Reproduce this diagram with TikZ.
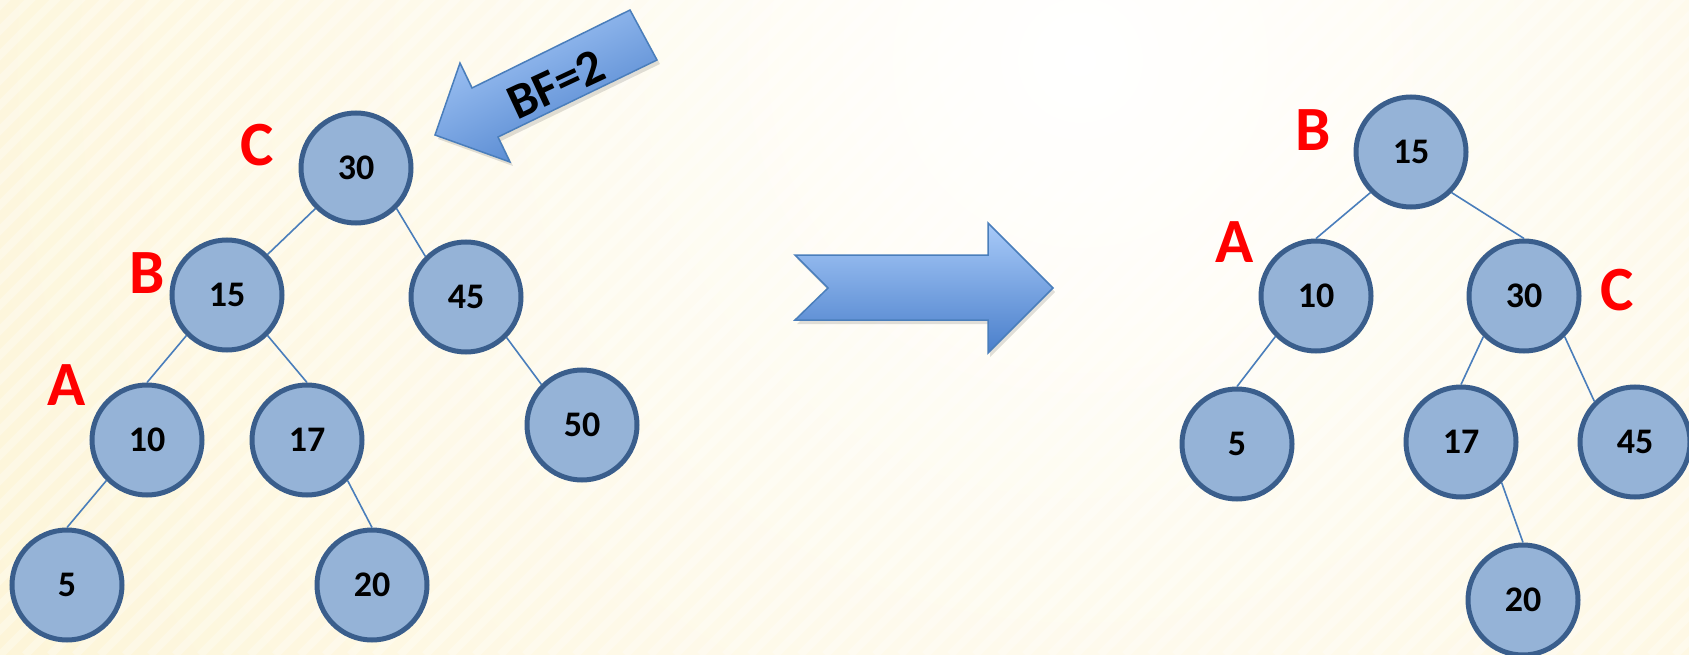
\documentclass[tikz,border=0pt]{standalone}
\usepackage{fontspec}
\setmainfont{Carlito}
\usetikzlibrary{positioning}

\definecolor{bgyellow}{HTML}{FCEFC0}
\definecolor{nodefill}{HTML}{95B3D7}
\definecolor{nodeline}{HTML}{3A5E8C}
\definecolor{edgeblue}{HTML}{4A7EBB}
\definecolor{arrowtop}{HTML}{A8CAF8}
\definecolor{arrowbot}{HTML}{4A7FCB}

\tikzset{
  knode/.style={circle,draw=nodeline,fill=nodefill,line width=5pt,minimum size=110pt,inner sep=0pt,font=\fontsize{36}{40}\selectfont\bfseries},
  klabel/.style={text=red,inner sep=0pt,font=\fontsize{63}{70}\selectfont\bfseries},
  kedge/.style={edgeblue,line width=1.6pt},
  bigarrow/.style={draw=edgeblue,line width=1.5pt,line join=miter}
}

\begin{document}
\begin{tikzpicture}[x=1pt,y=-1pt]

    \useasboundingbox (0,0) rectangle (1689,655);
    % hatter
    \fill[bgyellow] (0,0) rectangle (1689,655);
    \begin{scope}
      \clip (0,0) rectangle (1689,655);
      \shade[inner color=white,outer color=bgyellow] (1080,60) circle (2000);
      \foreach \i in {-700,-675,...,1700}
        \draw[white,opacity=0.3,line width=8pt] (\i,655) -- ++(720,-720);
    \end{scope}

    % bal fa
    \node[knode] (l30) at (356,168) {30};
    \node[knode] (l15) at (227,295) {15};
    \node[knode] (l45) at (466,297) {45};
    \node[knode] (l10) at (147,440) {10};
    \node[knode] (l17) at (307,440) {17};
    \node[knode] (l50) at (582,425) {50};
    \node[knode] (l5)  at (67,585)  {5};
    \node[knode] (l20) at (372,585) {20};

    \draw[kedge] (l30.south west) -- (l15.north east);
    \draw[kedge] (l30.south east) -- (l45.north west);
    \draw[kedge] (l15.south west) -- (l10.north);
    \draw[kedge] (l15.south east) -- (l17.north);
    \draw[kedge] (l45.south east) -- (l50.north west);
    \draw[kedge] (l10.south west) -- (l5.north);
    \draw[kedge] (l17.south east) -- (l20.north);

    \node[klabel] (lC) at (257,145) {C};
    \node[klabel] (lB) at (147,273) {B};
    \node[klabel] (lA) at (67,385)  {A};

    % BF nyil
    \fill[black,opacity=0.12] (438,139) -- (463,67) -- (475,92) -- (633,14) -- (660,64) -- (501,141) -- (513,166) -- cycle;
    \shade[bigarrow,top color=arrowtop,bottom color=arrowbot,shading angle=26]
      (435,135) -- (460,63) -- (472,88) -- (630,10) -- (657,60) -- (498,137) -- (510,162) -- cycle;
    \node[rotate=25,inner sep=0pt,font=\fontsize{50}{52}\selectfont\bfseries] (bf) at (556,84) {BF=2};

    % atmenet
    \fill[black,opacity=0.12] (797,259) -- (990,259) -- (990,227) -- (1055,292) -- (990,357) -- (990,324) -- (797,324) -- (830,292) -- cycle;
    \shade[bigarrow,top color=arrowtop,bottom color=arrowbot]
      (795,255) -- (988,255) -- (988,223) -- (1053,288) -- (988,353) -- (988,320) -- (795,320) -- (828,288) -- cycle;

    % jobb fa
    \node[knode] (r15) at (1411,152) {15};
    \node[knode] (r10) at (1316,296) {10};
    \node[knode] (r30) at (1524,296) {30};
    \node[knode] (r5)  at (1237,444) {5};
    \node[knode] (r17) at (1461,442) {17};
    \node[knode] (r45) at (1635,442) {45};
    \node[knode] (r20) at (1523,600) {20};

    \draw[kedge] (r15.south west) -- (r10.north);
    \draw[kedge] (r15.south east) -- (r30.north);
    \draw[kedge] (r10.south west) -- (r5.north);
    \draw[kedge] (r30.south west) -- (r17.north);
    \draw[kedge] (r30.south east) -- (r45.north west);
    \draw[kedge] (r17.south east) -- (r20.north);

    \node[klabel] (rB) at (1313,130) {B};
    \node[klabel] (rA) at (1235,242) {A};
    \node[klabel] (rC) at (1617,290) {C};

\end{tikzpicture}
\end{document}
